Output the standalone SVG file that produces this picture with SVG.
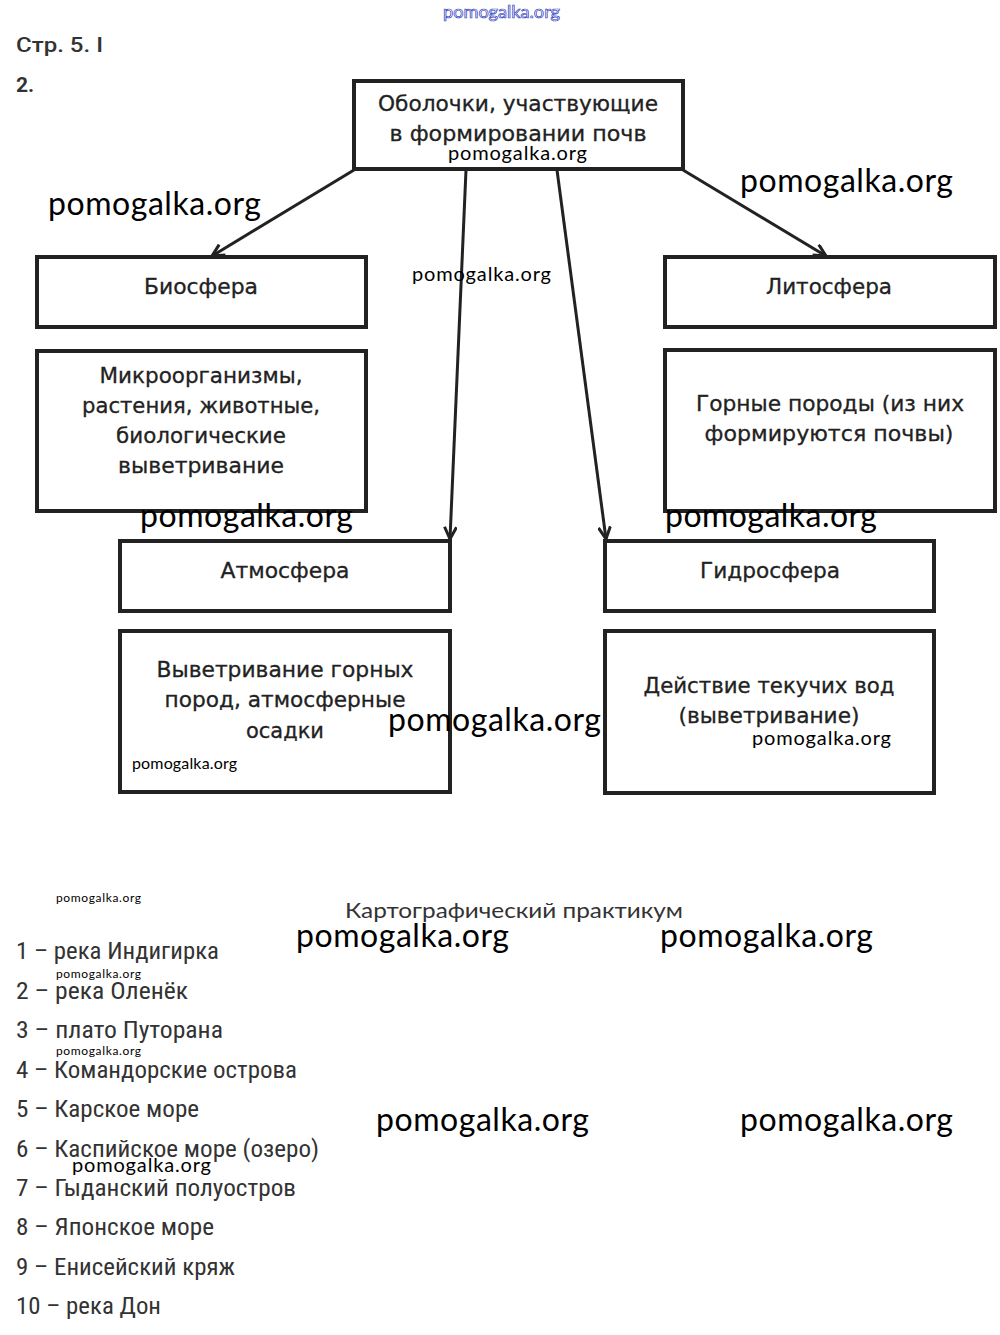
<svg xmlns="http://www.w3.org/2000/svg" width="1000" height="1335" viewBox="0 0 1000 1335">
<style>
.box{fill:#fff;stroke:#222;stroke-width:4}
.bt{font-family:"DejaVu Sans","Liberation Sans",sans-serif;font-size:21px;fill:#222;stroke:#222;stroke-width:0.3;text-anchor:middle}
.wm{font-family:Lato,"Open Sans",sans-serif;fill:#000}
.big{font-size:32px}
.mid{font-size:20px}
.sm{font-size:12px}
.li{font-family:"Liberation Sans Narrow","Roboto Condensed","Liberation Sans",sans-serif;font-size:23px;fill:#333}
.con{stroke:#222;stroke-width:3;fill:none;marker-end:url(#ah)}
</style>
<defs>
<marker id="ah" viewBox="0 0 14 14" refX="13" refY="7" markerWidth="14" markerHeight="14" markerUnits="userSpaceOnUse" orient="auto">
<path d="M1,1 L13,7 L1,13" fill="none" stroke="#222" stroke-width="3"/>
</marker>
</defs>
<rect width="1000" height="1335" fill="#fff"/>

<text x="443" y="18" font-family="Lato,sans-serif" font-size="17" fill="#fff" stroke="#3040c0" stroke-width="0.7" textLength="117" lengthAdjust="spacingAndGlyphs">pomogalka.org</text>

<text x="16" y="52" font-family="Roboto,'Liberation Sans',sans-serif" font-size="21" font-weight="500" fill="#333" textLength="87" lengthAdjust="spacingAndGlyphs">Стр. 5. I</text>
<text x="16" y="92" font-family="Roboto,'Liberation Sans',sans-serif" font-size="21" font-weight="bold" fill="#333">2.</text>

<g id="connectors">
<line class="con" x1="354" y1="170" x2="212" y2="256"/>
<line class="con" x1="683" y1="170" x2="826" y2="256"/>
<line class="con" x1="466" y1="170" x2="450" y2="539"/>
<line class="con" x1="557" y1="170" x2="606" y2="539"/>
</g>

<g id="node-root">
<rect class="box" x="354" y="81" width="329" height="88"/>
<text class="bt" x="518" y="111" textLength="280" lengthAdjust="spacingAndGlyphs">Оболочки, участвующие</text>
<text class="bt" x="518" y="141" textLength="257" lengthAdjust="spacingAndGlyphs">в формировании почв</text>
</g>

<g id="node-bio">
<rect class="box" x="37" y="257" width="329" height="70"/>
<text class="bt" x="201" y="294" textLength="114" lengthAdjust="spacingAndGlyphs">Биосфера</text>
</g>
<g id="node-bio-desc">
<rect class="box" x="37" y="351" width="329" height="160"/>
<text class="bt" x="201" y="383" textLength="203" lengthAdjust="spacingAndGlyphs">Микроорганизмы,</text>
<text class="bt" x="201" y="413" textLength="238" lengthAdjust="spacingAndGlyphs">растения, животные,</text>
<text class="bt" x="201" y="443" textLength="170" lengthAdjust="spacingAndGlyphs">биологические</text>
<text class="bt" x="201" y="473" textLength="166" lengthAdjust="spacingAndGlyphs">выветривание</text>
</g>

<g id="node-lito">
<rect class="box" x="665" y="257" width="330" height="70"/>
<text class="bt" x="829" y="294" textLength="126" lengthAdjust="spacingAndGlyphs">Литосфера</text>
</g>
<g id="node-lito-desc">
<rect class="box" x="665" y="350" width="330" height="161"/>
<text class="bt" x="830" y="411" textLength="268" lengthAdjust="spacingAndGlyphs">Горные породы (из них</text>
<text class="bt" x="829" y="441" textLength="249" lengthAdjust="spacingAndGlyphs">формируются почвы)</text>
</g>

<g id="node-atmo">
<rect class="box" x="120" y="541" width="330" height="70"/>
<text class="bt" x="285" y="578" textLength="129" lengthAdjust="spacingAndGlyphs">Атмосфера</text>
</g>
<g id="node-atmo-desc">
<rect class="box" x="120" y="631" width="330" height="161"/>
<text class="bt" x="285" y="677" textLength="257" lengthAdjust="spacingAndGlyphs">Выветривание горных</text>
<text class="bt" x="285" y="707" textLength="241" lengthAdjust="spacingAndGlyphs">пород, атмосферные</text>
<text class="bt" x="285" y="738" textLength="78" lengthAdjust="spacingAndGlyphs">осадки</text>
</g>

<g id="node-gidro">
<rect class="box" x="605" y="541" width="329" height="70"/>
<text class="bt" x="770" y="578" textLength="140" lengthAdjust="spacingAndGlyphs">Гидросфера</text>
</g>
<g id="node-gidro-desc">
<rect class="box" x="605" y="631" width="329" height="162"/>
<text class="bt" x="769" y="693" textLength="251" lengthAdjust="spacingAndGlyphs">Действие текучих вод</text>
<text class="bt" x="769" y="723" textLength="181" lengthAdjust="spacingAndGlyphs">(выветривание)</text>
</g>

<text x="345" y="918" font-family="Lato,'Open Sans',sans-serif" font-size="21" fill="#333" textLength="338" lengthAdjust="spacingAndGlyphs">Картографический практикум</text>

<g id="list">
<text class="li" x="16" y="959" textLength="203" lengthAdjust="spacingAndGlyphs">1 – река Индигирка</text>
<text class="li" x="16" y="999" textLength="172" lengthAdjust="spacingAndGlyphs">2 – река Оленёк</text>
<text class="li" x="16" y="1038" textLength="207" lengthAdjust="spacingAndGlyphs">3 – плато Путорана</text>
<text class="li" x="16" y="1078" textLength="281" lengthAdjust="spacingAndGlyphs">4 – Командорские острова</text>
<text class="li" x="16" y="1117" textLength="183" lengthAdjust="spacingAndGlyphs">5 – Карское море</text>
<text class="li" x="16" y="1157" textLength="303" lengthAdjust="spacingAndGlyphs">6 – Каспийское море (озеро)</text>
<text class="li" x="16" y="1196" textLength="280" lengthAdjust="spacingAndGlyphs">7 – Гыданский полуостров</text>
<text class="li" x="16" y="1235" textLength="198" lengthAdjust="spacingAndGlyphs">8 – Японское море</text>
<text class="li" x="16" y="1275" textLength="219" lengthAdjust="spacingAndGlyphs">9 – Енисейский кряж</text>
<text class="li" x="16" y="1314" textLength="145" lengthAdjust="spacingAndGlyphs">10 – река Дон</text>
</g>

<g id="watermarks">
<text class="wm mid" x="448" y="160" textLength="139">pomogalka.org</text>
<text class="wm big" x="48" y="215" textLength="213">pomogalka.org</text>
<text class="wm big" x="740" y="192" textLength="213">pomogalka.org</text>
<text class="wm mid" x="412" y="281" textLength="139">pomogalka.org</text>
<text class="wm big" x="140" y="527" textLength="213">pomogalka.org</text>
<text class="wm big" x="665" y="527" textLength="212">pomogalka.org</text>
<text class="wm big" x="388" y="731" textLength="213">pomogalka.org</text>
<text class="wm" x="132" y="769" font-size="16" textLength="105">pomogalka.org</text>
<text class="wm mid" x="752" y="745" textLength="139">pomogalka.org</text>
<text class="wm sm" x="56" y="902" textLength="85">pomogalka.org</text>
<text class="wm big" x="296" y="947" textLength="213">pomogalka.org</text>
<text class="wm big" x="660" y="947" textLength="213">pomogalka.org</text>
<text class="wm sm" x="56" y="978" textLength="85">pomogalka.org</text>
<text class="wm sm" x="56" y="1055" textLength="85">pomogalka.org</text>
<text class="wm big" x="376" y="1131" textLength="213">pomogalka.org</text>
<text class="wm big" x="740" y="1131" textLength="213">pomogalka.org</text>
<text class="wm mid" x="72" y="1172" textLength="139">pomogalka.org</text>
</g>
</svg>
